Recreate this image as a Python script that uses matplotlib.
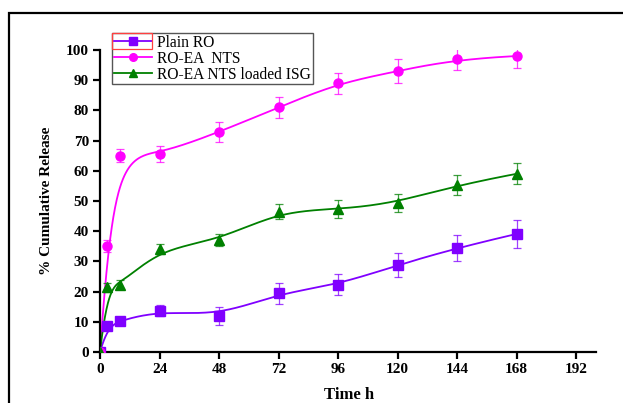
import numpy as np
import matplotlib
matplotlib.use('Agg')
import matplotlib.pyplot as plt
from matplotlib.patches import Rectangle

# datos
tiempo = [0, 3, 8, 24, 48, 72, 96, 120, 144, 168]
plain_ro = [0, 8.5, 10.4, 13.6, 12.0, 19.4, 22.3, 28.8, 34.5, 39.1]
plain_ro_err = [0, 0.8, 0.8, 1.8, 2.9, 3.5, 3.5, 4.0, 4.3, 4.5]
ro_ea = [0, 35.0, 65.0, 65.6, 72.8, 81.0, 89.0, 93.0, 97.0, 98.0]
ro_ea_err = [0, 2.0, 2.2, 2.7, 3.4, 3.5, 3.5, 4.0, 3.5, 4.0]
ro_isg = [0, 21.4, 22.2, 34.1, 37.0, 46.5, 47.3, 49.3, 55.3, 59.0]
ro_isg_err = [0, 1.5, 1.5, 1.5, 2.0, 2.5, 3.0, 3.0, 3.3, 3.5]

etiquetas = ['Plain RO', 'RO-EA  NTS', 'RO-EA NTS loaded ISG']
colores = ['#8000FF', '#FF00FF', '#008000']
marcadores = ['s', 'o', '^']

plt.rcParams['font.family'] = ['Liberation Serif', 'DejaVu Serif']


# curva B-spline (como en Origin) usando los puntos como control
def bspline(xs, ys, n=400):
    P = np.column_stack([xs, ys])
    k = 3
    m = len(P)
    nudos = np.concatenate([np.zeros(k + 1), np.arange(1, m - k), np.full(k + 1, m - k)])
    u = np.linspace(0, m - k, n)
    u[-1] -= 1e-9

    def N(i, p, u):
        if p == 0:
            return ((nudos[i] <= u) & (u < nudos[i + 1])).astype(float)
        a = 0.0
        b = 0.0
        d1 = nudos[i + p] - nudos[i]
        if d1 > 0:
            a = (u - nudos[i]) / d1 * N(i, p - 1, u)
        d2 = nudos[i + p + 1] - nudos[i + 1]
        if d2 > 0:
            b = (nudos[i + p + 1] - u) / d2 * N(i + 1, p - 1, u)
        return a + b

    B = np.array([N(i, k, u) for i in range(m)])
    C = B.T @ P
    return C[:, 0], C[:, 1]


fig = plt.figure(figsize=(6.23, 4.03), dpi=100)
ax = fig.add_axes([100 / 623, 51 / 403, 496 / 623, 302 / 403])

series = [(plain_ro, plain_ro_err), (ro_ea, ro_ea_err), (ro_isg, ro_isg_err)]
handles = []
for (vals, err), lab, col, mk in zip(series, etiquetas, colores, marcadores):
    cx, cy = bspline(tiempo, vals)
    ax.plot(cx, cy, color=col, lw=1.3, zorder=2)
    ax.errorbar(tiempo, vals, yerr=err, fmt='none', ecolor=col, elinewidth=0.9,
                capsize=3, capthick=0.9, alpha=0.75, zorder=3)
    ax.plot(tiempo, vals, ls='none', marker=mk, ms=6.5, color=col, zorder=4)
    h, = ax.plot([], [], color=col, lw=1.3, marker=mk, ms=5.5)
    handles.append(h)

ax.set_xlim(0, 200)
ax.set_ylim(0, 100)
ax.set_xticks(np.arange(0, 193, 24))
ax.set_yticks(np.arange(0, 101, 10))
ax.spines['top'].set_visible(False)
ax.spines['right'].set_visible(False)
for s in ['left', 'bottom']:
    ax.spines[s].set_linewidth(1.6)
ax.tick_params(direction='out', length=5, width=1.6, labelsize=11, pad=3)
for t in ax.get_xticklabels() + ax.get_yticklabels():
    t.set_fontweight('bold')

fig.text(46 / 623, 1 - 201 / 403, '% Cumulative Release', rotation=90,
         ha='center', va='center', fontsize=11, fontweight='bold')
fig.text(349 / 623, 1 - 395 / 403, 'Time h', ha='center', va='center',
         fontsize=12, fontweight='bold')

leg = fig.legend(handles, etiquetas, loc='upper left',
                 bbox_to_anchor=(112 / 623, 1 - 33 / 403), borderaxespad=0,
                 fancybox=False, framealpha=1, edgecolor='#555555',
                 prop={'family': 'Liberation Serif', 'size': 11.2},
                 handlelength=2.5, handletextpad=0.3, labelspacing=0.0,
                 borderpad=0.1)
leg.get_frame().set_linewidth(1.0)

# recuadro rojo de seleccion sobre la primera muestra
fig.patches.append(Rectangle((112 / 623, 1 - 49 / 403), 40 / 623, 16 / 403,
                             transform=fig.transFigure, fill=False,
                             edgecolor='#FF4040', lw=0.9, zorder=10))

# marco exterior de la figura
fig.patches.append(Rectangle((9 / 623, -0.1), 1.2, 1.1 - 13 / 403,
                             transform=fig.transFigure, fill=False,
                             edgecolor='black', lw=1.6, clip_on=False))

fig.savefig('out.png', dpi=100)
